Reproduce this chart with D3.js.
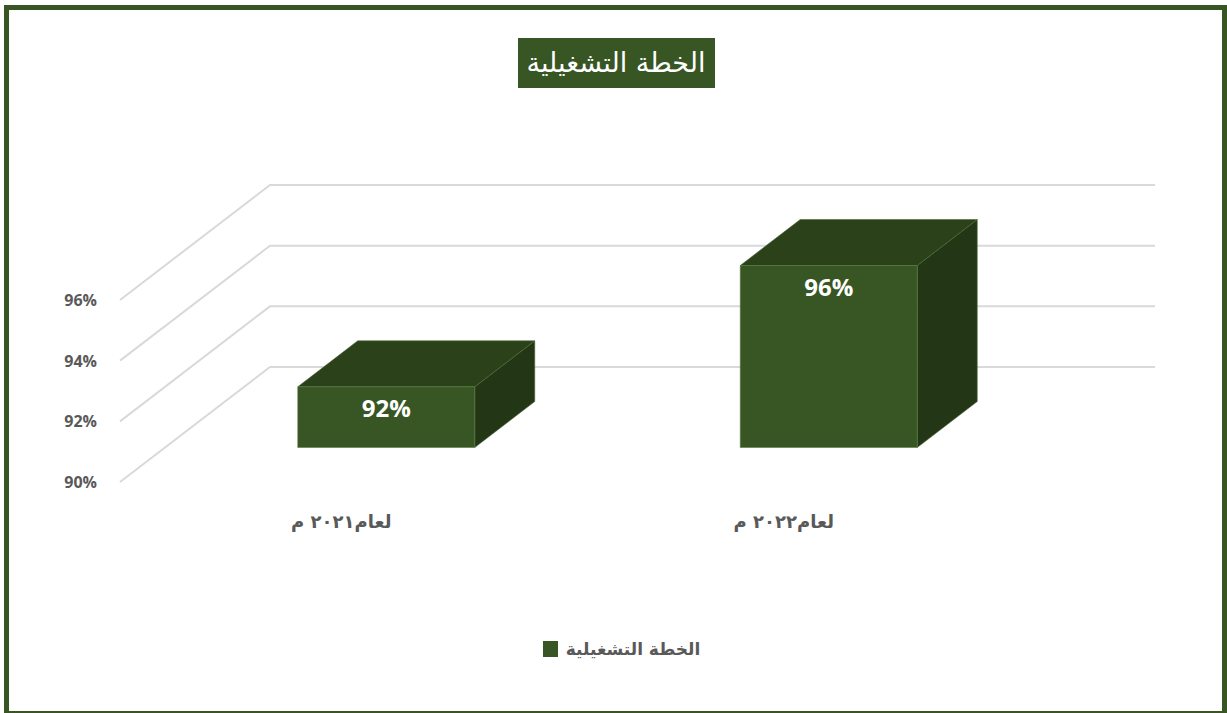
<!DOCTYPE html>
<html>
<head>
<meta charset="utf-8">
<script src="https://cdn.jsdelivr.net/npm/d3@7"></script>
<style>
  body { margin: 0; background: #fff; }
</style>
</head>
<body>
<svg id="chart" width="1227" height="713"></svg>
<script>
const TITLE = "الخطة التشغيلية";
const categories = ["لعام٢٠٢١ م", "لعام٢٠٢٢ م"];
const values = [92, 96];
const valueLabels = ["92%", "96%"];
const yTicks = [90, 92, 94, 96];
const yTickLabels = ["90%", "92%", "94%", "96%"];

const GREEN = "#375623";
const TOP_GREEN = "#2a4119";
const SIDE_GREEN = "#233716";
const GRID = "#d9d9d9";
const TEXT_GRAY = "#595959";

// depth offset of the 3d box (back wall vs front plane)
const DEPTH_X = 150;
const DEPTH_Y = -115;

const svg = d3.select("#chart");

// outer frame
svg.append("rect")
  .attr("x", 6.5).attr("y", 7.5)
  .attr("width", 1218).attr("height", 706)
  .attr("fill", "none")
  .attr("stroke", GREEN)
  .attr("stroke-width", 5);

// title box
svg.append("rect")
  .attr("x", 518).attr("y", 38)
  .attr("width", 197).attr("height", 50)
  .attr("fill", GREEN);

svg.append("text")
  .attr("x", 616).attr("y", 72)
  .attr("text-anchor", "middle")
  .attr("font-family", "DejaVu Sans, sans-serif")
  .attr("font-size", "27px")
  .attr("fill", "#fff")
  .text(TITLE);

const x = d3.scaleBand().domain(categories).range([120, 1005]);
const y = d3.scaleLinear().domain([90, 96]).range([482, 300]);

const proj = (px, py, z) => [px + z * DEPTH_X, py + z * DEPTH_Y];

// gridlines: side wall diagonal + back wall horizontal
const grid = svg.append("g");
yTicks.forEach((t) => {
  const pts = [
    [x.range()[0], y(t)],
    proj(x.range()[0], y(t), 1),
    proj(x.range()[1], y(t), 1),
  ];
  grid.append("path")
    .attr("d", d3.line()(pts))
    .attr("fill", "none")
    .attr("stroke", GRID)
    .attr("stroke-width", 2);
});

// y labels
svg.append("g")
  .selectAll("text")
  .data(yTicks)
  .enter()
  .append("text")
  .attr("x", 97)
  .attr("y", (d) => y(d) + 6)
  .attr("text-anchor", "end")
  .attr("font-family", "Open Sans, sans-serif")
  .attr("font-weight", "bold")
  .attr("font-size", "16px")
  .attr("fill", TEXT_GRAY)
  .text((d, i) => yTickLabels[i]);

// bars as 3d boxes
const barW = x.bandwidth() * 0.4;
const z0 = 0.3, z1 = 0.7;
const bars = svg.append("g");
categories.forEach((c, i) => {
  const xl = x(c) + (x.bandwidth() - barW) / 2;
  const xr = xl + barW;
  const yb = y(90);
  const yt = y(values[i]);
  const f = (px, py, z) => proj(px, py, z);
  const front = [f(xl, yt, z0), f(xr, yt, z0), f(xr, yb, z0), f(xl, yb, z0)];
  const top = [f(xl, yt, z0), f(xl, yt, z1), f(xr, yt, z1), f(xr, yt, z0)];
  const side = [f(xr, yt, z0), f(xr, yt, z1), f(xr, yb, z1), f(xr, yb, z0)];
  const poly = (p) => d3.line()(p) + "Z";
  bars.append("path").attr("d", poly(side)).attr("fill", SIDE_GREEN)
    .attr("stroke", "#4a6a35").attr("stroke-width", 0.6);
  bars.append("path").attr("d", poly(top)).attr("fill", TOP_GREEN)
    .attr("stroke", "#4a6a35").attr("stroke-width", 0.6);
  bars.append("path").attr("d", poly(front)).attr("fill", GREEN)
    .attr("stroke", "#5a7a45").attr("stroke-width", 0.6);

  const c0 = f((xl + xr) / 2, yt, z0);
  bars.append("text")
    .attr("x", c0[0])
    .attr("y", c0[1] + 30)
    .attr("text-anchor", "middle")
    .attr("font-family", "Open Sans, sans-serif")
    .attr("font-weight", "bold")
    .attr("font-size", "24px")
    .attr("fill", "#fff")
    .text(valueLabels[i]);
});

// category labels
svg.append("g")
  .selectAll("text")
  .data(categories)
  .enter()
  .append("text")
  .attr("x", (d) => x(d) + x.bandwidth() / 2)
  .attr("y", 528)
  .attr("text-anchor", "middle")
  .attr("font-family", "DejaVu Sans, sans-serif")
  .attr("font-weight", "bold")
  .attr("font-size", "18px")
  .attr("fill", TEXT_GRAY)
  .text((d) => d);

// legend
svg.append("rect")
  .attr("x", 543).attr("y", 641)
  .attr("width", 15).attr("height", 16)
  .attr("fill", GREEN);

svg.append("text")
  .attr("x", 633)
  .attr("y", 655)
  .attr("text-anchor", "middle")
  .attr("font-family", "DejaVu Sans, sans-serif")
  .attr("font-weight", "bold")
  .attr("font-size", "17px")
  .attr("fill", TEXT_GRAY)
  .text(TITLE);
</script>
</body>
</html>
